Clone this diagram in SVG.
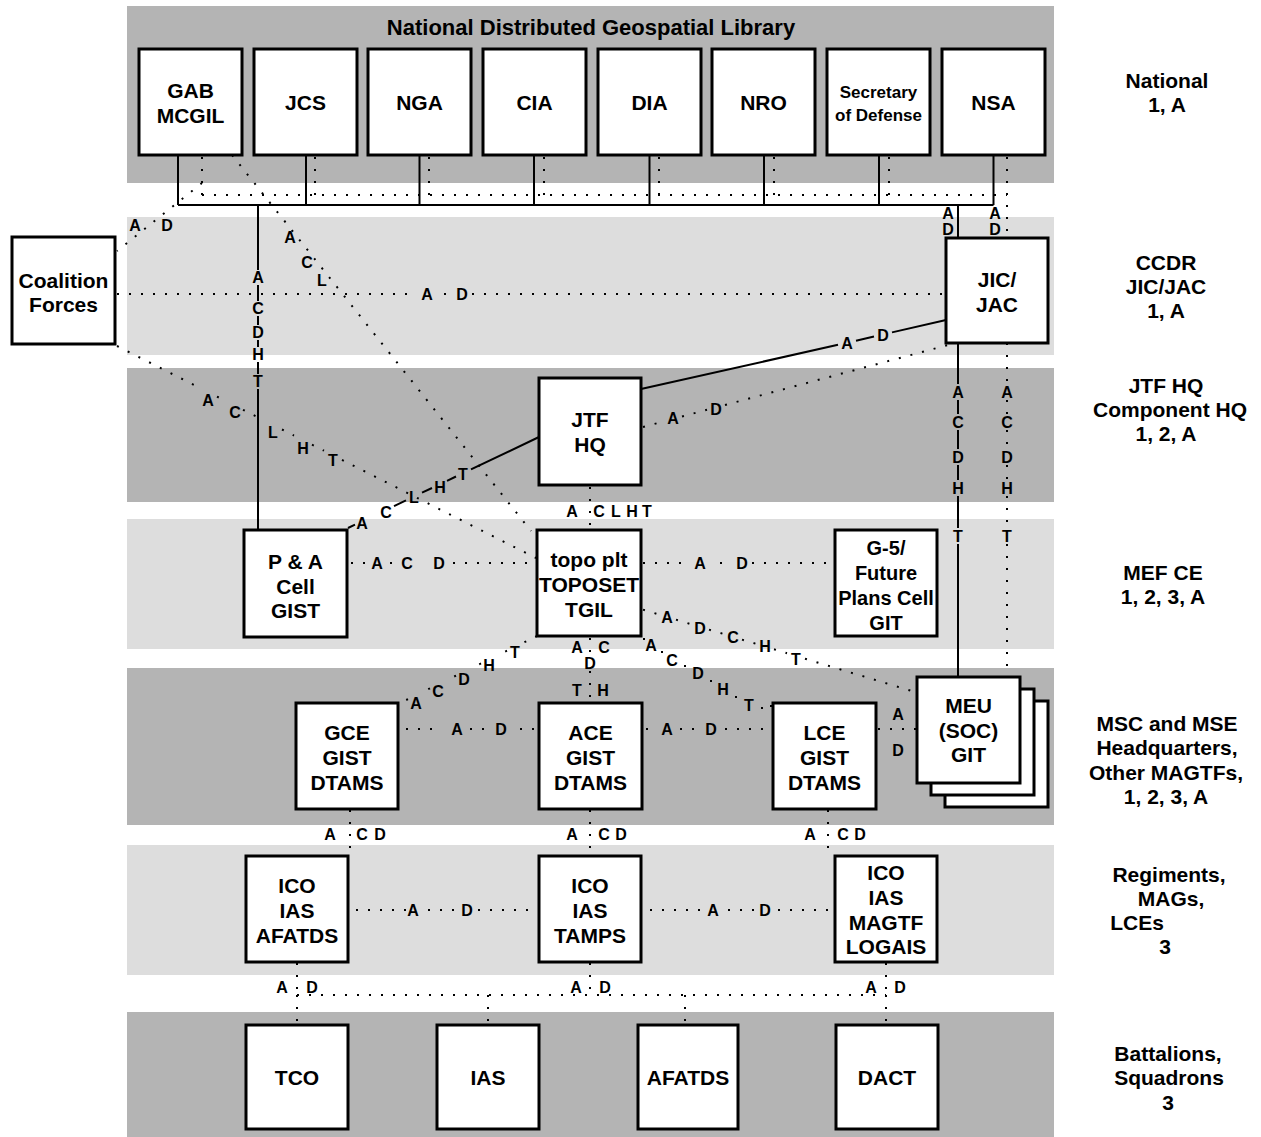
<svg xmlns="http://www.w3.org/2000/svg" width="1261" height="1137" viewBox="0 0 1261 1137">
<style>
.bd{fill:#b4b4b4}
.bl{fill:#dddddd}
.bx{fill:#fff;stroke:#000;stroke-width:3}
text{font-family:"Liberation Sans",Arial,Helvetica,sans-serif;font-weight:bold;fill:#000;text-anchor:middle}
.n{font-size:21px}
.s{font-size:17px}
.g{font-size:20px}
.r{font-size:21px}
.c{font-size:16px}
.ln{stroke:#000;stroke-width:2;fill:none}
.dt{stroke:#000;stroke-width:2;fill:none;stroke-dasharray:2 10}
.pt{stroke:#000;stroke-width:2;fill:none}
</style>
<rect width="1261" height="1137" fill="#fff"/>
<g id="bands">
<rect class="bd" x="127" y="6" width="927" height="177"/>
<rect class="bl" x="127" y="217" width="927" height="138"/>
<rect class="bd" x="127" y="368" width="927" height="134"/>
<rect class="bl" x="127" y="519" width="927" height="130"/>
<rect class="bd" x="127" y="668" width="927" height="157"/>
<rect class="bl" x="127" y="845" width="927" height="130"/>
<rect class="bd" x="127" y="1012" width="927" height="125"/>
<text class="n" x="591" y="35" style="font-size:22px">National Distributed Geospatial Library</text>
</g>
<g id="tier-labels">
<text class="r" x="1167" y="88">National</text>
<text class="r" x="1167" y="112">1, A</text>
<text class="r" x="1166" y="270">CCDR</text>
<text class="r" x="1166" y="294">JIC/JAC</text>
<text class="r" x="1166" y="318">1, A</text>
<text class="r" x="1166" y="393">JTF HQ</text>
<text class="r" x="1170" y="417">Component HQ</text>
<text class="r" x="1166" y="441">1, 2, A</text>
<text class="r" x="1163" y="580">MEF CE</text>
<text class="r" x="1163" y="604">1, 2, 3, A</text>
<text class="r" x="1167" y="731">MSC and MSE</text>
<text class="r" x="1167" y="755">Headquarters,</text>
<text class="r" x="1166" y="780">Other MAGTFs,</text>
<text class="r" x="1166" y="804">1, 2, 3, A</text>
<text class="r" x="1169" y="882">Regiments,</text>
<text class="r" x="1171" y="906">MAGs,</text>
<text class="r" x="1137" y="930">LCEs</text>
<text class="r" x="1165" y="954">3</text>
<text class="r" x="1168" y="1061">Battalions,</text>
<text class="r" x="1169" y="1085">Squadrons</text>
<text class="r" x="1168" y="1110">3</text>
</g>
<g id="connectors">
<path class="ln" d="M178 155V205 M306 155V205 M419.5 155V205 M534 155V205 M649.5 155V205 M764 155V205 M879 155V205 M993.5 155V205 M178 205H993.5 M958 205V238"/>
<path class="dt" d="M202 157V195 M315 157V195 M429 157V195 M544 157V195 M659 157V195 M774 157V195 M889 157V195 M202 195H1007 M1007 157V238"/>
<text class="c" x="948" y="219">A</text><text class="c" x="948" y="235">D</text>
<text class="c" x="995" y="219">A</text><text class="c" x="995" y="235">D</text>
<path class="dt" d="M202 183L117 251"/>
<text class="c" x="135" y="231">A</text><text class="c" x="167" y="231">D</text>
<path class="dt" d="M232 155L531 531"/>
<text class="c" x="290" y="243">A</text><text class="c" x="307" y="268">C</text><text class="c" x="322" y="286">L</text>
<path class="dt" d="M117 294H417 M472 294H946"/>
<path class="pt" d="M444 294h2"/>
<text class="c" x="427" y="300">A</text><text class="c" x="462" y="300">D</text>
<path class="ln" d="M258 205V270 M258 285V301 M258 316V325 M258 340V347 M258 362V374 M258 389V530"/>
<text class="c" x="258" y="283">A</text><text class="c" x="258" y="314">C</text><text class="c" x="258" y="338">D</text><text class="c" x="258" y="360">H</text><text class="c" x="258" y="387">T</text>
<path class="dt" d="M117 346L199 387.5 M217 396.6L227 401.7 M243 409.8L264 420.4 M282 429.5L294 435.6 M312 444.7L324 450.7 M342 459.9L536 558"/>
<text class="c" x="208" y="406">A</text><text class="c" x="235" y="418">C</text><text class="c" x="273" y="438">L</text><text class="c" x="303" y="454">H</text><text class="c" x="333" y="466">T</text>
<path class="ln" d="M539 437L471 469.4 M456 476.5L447 480.8 M432 488L422 492.7 M406 500.4L394 506.1 M355 524.7L348 528"/>
<text class="c" x="463" y="480">T</text><text class="c" x="440" y="493">H</text><text class="c" x="414" y="503">L</text><text class="c" x="386" y="518">C</text><text class="c" x="362" y="529">A</text>
<path class="ln" d="M641 389L838 344.8 M856 340.7L874 336.5 M892 332.4L946 320"/>
<text class="c" x="847" y="349">A</text><text class="c" x="883" y="341">D</text>
<path class="dt" d="M643 427L665 421.1 M682 416.5L707 409.8 M725 405L948 345"/>
<text class="c" x="673" y="424">A</text><text class="c" x="716" y="415">D</text>
<path class="ln" d="M958 343V384 M958 400V414 M958 430V449 M958 465V480 M958 496V528 M958 544V677"/>
<path class="dt" d="M1007 343V384 M1007 400V414 M1007 430V449 M1007 465V480 M1007 496V528 M1007 544V677"/>
<text class="c" x="958" y="398">A</text><text class="c" x="958" y="428">C</text><text class="c" x="958" y="463">D</text><text class="c" x="958" y="494">H</text><text class="c" x="958" y="542">T</text>
<text class="c" x="1007" y="398">A</text><text class="c" x="1007" y="428">C</text><text class="c" x="1007" y="463">D</text><text class="c" x="1007" y="494">H</text><text class="c" x="1007" y="542">T</text>
<path class="dt" d="M590 487V530"/>
<text class="c" x="572" y="517">A</text><text class="c" x="599" y="517">C</text><text class="c" x="616" y="517">L</text><text class="c" x="632" y="517">H</text><text class="c" x="647" y="517">T</text>
<path class="dt" d="M351 563H366 M453 563H536 M643 563H690 M752 563H835"/>
<path class="pt" d="M390 563h2 M720 563h2"/>
<text class="c" x="377" y="569">A</text><text class="c" x="407" y="569">C</text><text class="c" x="439" y="569">D</text>
<text class="c" x="700" y="569">A</text><text class="c" x="742" y="569">D</text>
<path class="dt" d="M537 636L524 642.4 M507 650.7L498 655.1 M481 663.4L473 667.3 M456 675.6L447 680 M430 688.3L425 690.8 M408 699.1L398 704"/>
<text class="c" x="515" y="658">T</text><text class="c" x="489" y="671">H</text><text class="c" x="464" y="685">D</text><text class="c" x="438" y="697">C</text><text class="c" x="416" y="709">A</text>
<path class="dt" d="M590 638V655 M590 671V703"/>
<text class="c" x="577" y="653">A</text><text class="c" x="604" y="653">C</text><text class="c" x="590" y="669">D</text><text class="c" x="577" y="696">T</text><text class="c" x="603" y="696">H</text>
<path class="pt" d="M643 639h2 M661 652h2 M684 666h2 M710 681h2 M735 697h2 M761 708h2 M770 706h2"/>
<text class="c" x="651" y="651">A</text><text class="c" x="672" y="666">C</text><text class="c" x="698" y="679">D</text><text class="c" x="723" y="695">H</text><text class="c" x="749" y="711">T</text>
<path class="dt" d="M643 609.6L658 614.2 M676 619.6L691 624.2 M709 629.6L724 634.1 M742 639.6L756 643.8 M774 649.3L787 653.2 M805 658.7L917 692.6"/>
<text class="c" x="667" y="623">A</text><text class="c" x="700" y="634">D</text><text class="c" x="733" y="643">C</text><text class="c" x="765" y="652">H</text><text class="c" x="796" y="665">T</text>
<path class="dt" d="M406 729H440 M470 729H490 M520 729H537 M646 729H656 M680 729H700 M725 729H772 M878 729H916"/>
<text class="c" x="457" y="735">A</text><text class="c" x="501" y="735">D</text>
<text class="c" x="667" y="735">A</text><text class="c" x="711" y="735">D</text>
<text class="c" x="898" y="720">A</text><text class="c" x="898" y="756">D</text>
<path class="dt" d="M350 810V855 M590 810V855 M828 810V855"/>
<text class="c" x="330" y="840">A</text><text class="c" x="362" y="840">C</text><text class="c" x="380" y="840">D</text>
<text class="c" x="572" y="840">A</text><text class="c" x="604" y="840">C</text><text class="c" x="621" y="840">D</text>
<text class="c" x="810" y="840">A</text><text class="c" x="843" y="840">C</text><text class="c" x="860" y="840">D</text>
<path class="dt" d="M356 910H406 M428 910H456 M478 910H537 M650 910H702 M728 910H756 M778 910H834"/>
<text class="c" x="413" y="916">A</text><text class="c" x="467" y="916">D</text>
<text class="c" x="713" y="916">A</text><text class="c" x="765" y="916">D</text>
<path class="dt" d="M297 963V995 M590 963V995 M886 963V995 M297 995H886 M297 995V1025 M488 995V1025 M685 995V1025 M886 995V1025"/>
<text class="c" x="282" y="993">A</text><text class="c" x="312" y="993">D</text>
<text class="c" x="576" y="993">A</text><text class="c" x="605" y="993">D</text>
<text class="c" x="871" y="993">A</text><text class="c" x="900" y="993">D</text>
</g>
<g id="gab"><rect class="bx" x="139" y="49" width="103" height="106"/><text class="n" x="190.5" y="98">GAB</text><text class="n" x="190.5" y="123">MCGIL</text></g>
<g id="jcs"><rect class="bx" x="254" y="49" width="103" height="106"/><text class="n" x="305.5" y="110">JCS</text></g>
<g id="nga"><rect class="bx" x="368" y="49" width="103" height="106"/><text class="n" x="419.5" y="110">NGA</text></g>
<g id="cia"><rect class="bx" x="483" y="49" width="103" height="106"/><text class="n" x="534.5" y="110">CIA</text></g>
<g id="dia"><rect class="bx" x="598" y="49" width="103" height="106"/><text class="n" x="649.5" y="110">DIA</text></g>
<g id="nro"><rect class="bx" x="712" y="49" width="103" height="106"/><text class="n" x="763.5" y="110">NRO</text></g>
<g id="secdef"><rect class="bx" x="827" y="49" width="103" height="106"/><text class="s" x="878.5" y="98">Secretary</text><text class="s" x="878.5" y="121">of Defense</text></g>
<g id="nsa"><rect class="bx" x="942" y="49" width="103" height="106"/><text class="n" x="993.5" y="110">NSA</text></g>
<g id="coalition"><rect class="bx" x="12" y="237" width="103" height="107"/><text class="n" x="63.5" y="288">Coalition</text><text class="n" x="63.5" y="312">Forces</text></g>
<g id="jic"><rect class="bx" x="946" y="238" width="102" height="105"/><text class="n" x="997" y="287">JIC/</text><text class="n" x="997" y="312">JAC</text></g>
<g id="jtf"><rect class="bx" x="539" y="378" width="102" height="107"/><text class="n" x="590" y="427">JTF</text><text class="n" x="590" y="452">HQ</text></g>
<g id="pa"><rect class="bx" x="244" y="530" width="103" height="107"/><text class="n" x="295.5" y="569">P &amp; A</text><text class="n" x="295.5" y="594">Cell</text><text class="n" x="295.5" y="618">GIST</text></g>
<g id="topo"><rect class="bx" x="537" y="530" width="104" height="106"/><text class="n" x="589" y="567">topo plt</text><text class="n" x="589" y="592">TOPOSET</text><text class="n" x="589" y="617">TGIL</text></g>
<g id="g5"><rect class="bx" x="835" y="530" width="102" height="106"/><text class="g" x="886" y="555">G-5/</text><text class="g" x="886" y="580">Future</text><text class="g" x="886" y="605">Plans Cell</text><text class="g" x="886" y="630">GIT</text></g>
<g id="gce"><rect class="bx" x="296" y="703" width="102" height="106"/><text class="n" x="347" y="740">GCE</text><text class="n" x="347" y="765">GIST</text><text class="n" x="347" y="790">DTAMS</text></g>
<g id="ace"><rect class="bx" x="539" y="703" width="103" height="106"/><text class="n" x="590.5" y="740">ACE</text><text class="n" x="590.5" y="765">GIST</text><text class="n" x="590.5" y="790">DTAMS</text></g>
<g id="lce"><rect class="bx" x="773" y="703" width="103" height="106"/><text class="n" x="824.5" y="740">LCE</text><text class="n" x="824.5" y="765">GIST</text><text class="n" x="824.5" y="790">DTAMS</text></g>
<g id="meu"><rect class="bx" x="945" y="701" width="103" height="106"/><rect class="bx" x="931" y="689" width="103" height="106"/><rect class="bx" x="917" y="677" width="103" height="106"/><text class="n" x="968.5" y="713">MEU</text><text class="n" x="968.5" y="738">(SOC)</text><text class="n" x="968.5" y="762">GIT</text></g>
<g id="reg1"><rect class="bx" x="246" y="856" width="102" height="106"/><text class="n" x="297" y="893">ICO</text><text class="n" x="297" y="918">IAS</text><text class="n" x="297" y="943">AFATDS</text></g>
<g id="reg2"><rect class="bx" x="539" y="856" width="102" height="106"/><text class="n" x="590" y="893">ICO</text><text class="n" x="590" y="918">IAS</text><text class="n" x="590" y="943">TAMPS</text></g>
<g id="reg3"><rect class="bx" x="835" y="856" width="102" height="106"/><text class="n" x="886" y="880">ICO</text><text class="n" x="886" y="905">IAS</text><text class="n" x="886" y="930">MAGTF</text><text class="n" x="886" y="954">LOGAIS</text></g>
<g id="tco"><rect class="bx" x="246" y="1025" width="102" height="104"/><text class="n" x="297" y="1085">TCO</text></g>
<g id="ias"><rect class="bx" x="437" y="1025" width="102" height="104"/><text class="n" x="488" y="1085">IAS</text></g>
<g id="afatds"><rect class="bx" x="638" y="1025" width="100" height="104"/><text class="n" x="688" y="1085">AFATDS</text></g>
<g id="dact"><rect class="bx" x="836" y="1025" width="102" height="104"/><text class="n" x="887" y="1085">DACT</text></g>
</svg>
